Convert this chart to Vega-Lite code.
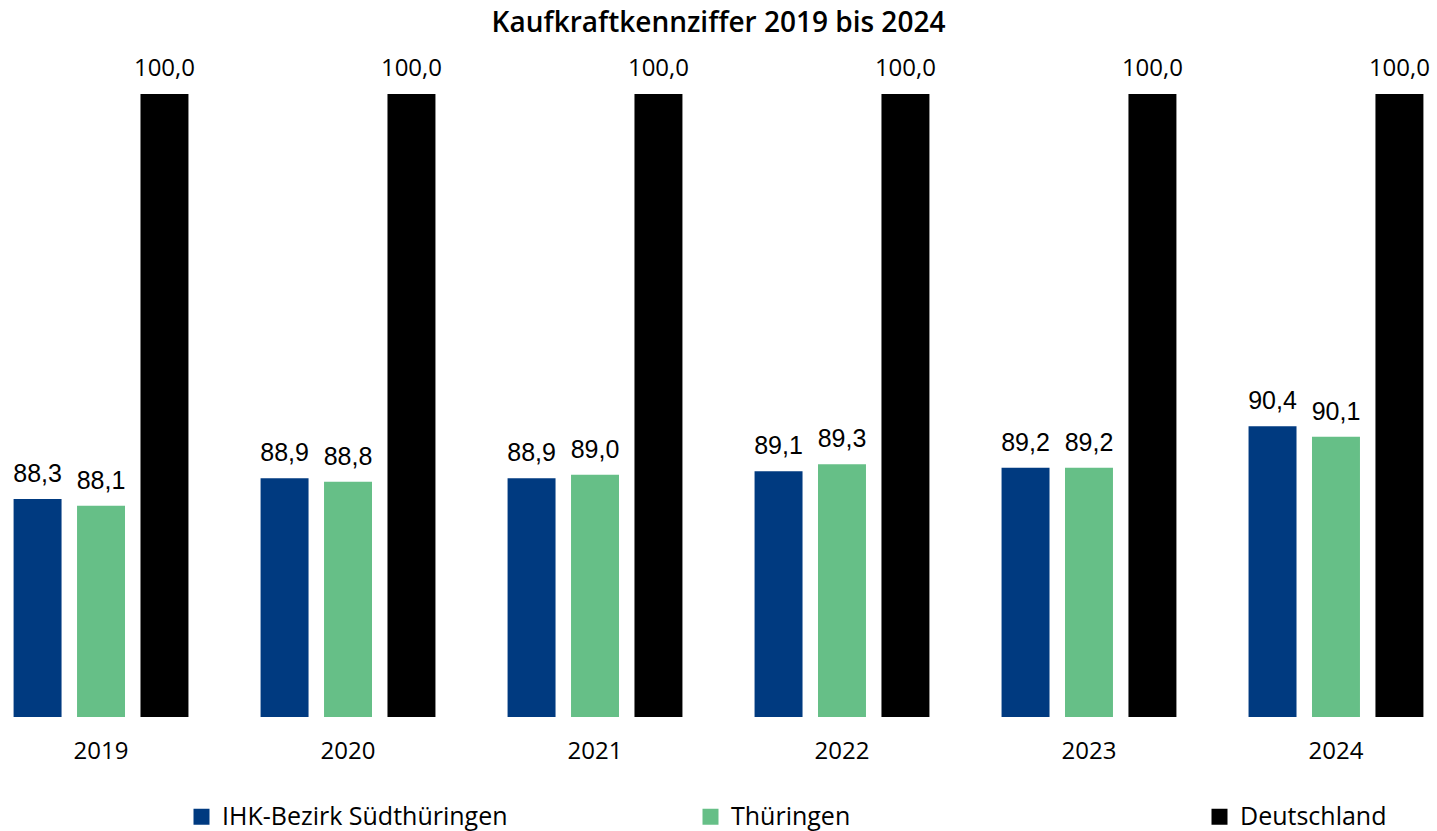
{
  "$schema": "https://vega.github.io/schema/vega-lite/v6.json",
  "autosize": {"type": "none"},
  "padding": {"left": 0, "top": 94, "right": 0, "bottom": 114},
  "width": 1437,
  "height": 623,
  "background": "white",
  "title": {"text": "Kaufkraftkennziffer 2019 bis 2024", "anchor": "middle", "fontSize": 28, "fontWeight": 600, "font": "Open Sans", "color": "#000000", "offset": 19},
  "config": {
    "locale": {"number": {"decimal": ",", "thousands": ".", "grouping": [3], "currency": ["", " €"]}},
    "view": {"stroke": null},
    "font": "Open Sans"
  },
  "data": {"values": [
    {"Jahr": "2019", "Region": "IHK-Bezirk Südthüringen", "Wert": 88.3},
    {"Jahr": "2019", "Region": "Thüringen", "Wert": 88.1},
    {"Jahr": "2019", "Region": "Deutschland", "Wert": 100.0},
    {"Jahr": "2020", "Region": "IHK-Bezirk Südthüringen", "Wert": 88.9},
    {"Jahr": "2020", "Region": "Thüringen", "Wert": 88.8},
    {"Jahr": "2020", "Region": "Deutschland", "Wert": 100.0},
    {"Jahr": "2021", "Region": "IHK-Bezirk Südthüringen", "Wert": 88.9},
    {"Jahr": "2021", "Region": "Thüringen", "Wert": 89.0},
    {"Jahr": "2021", "Region": "Deutschland", "Wert": 100.0},
    {"Jahr": "2022", "Region": "IHK-Bezirk Südthüringen", "Wert": 89.1},
    {"Jahr": "2022", "Region": "Thüringen", "Wert": 89.3},
    {"Jahr": "2022", "Region": "Deutschland", "Wert": 100.0},
    {"Jahr": "2023", "Region": "IHK-Bezirk Südthüringen", "Wert": 89.2},
    {"Jahr": "2023", "Region": "Thüringen", "Wert": 89.2},
    {"Jahr": "2023", "Region": "Deutschland", "Wert": 100.0},
    {"Jahr": "2024", "Region": "IHK-Bezirk Südthüringen", "Wert": 90.4},
    {"Jahr": "2024", "Region": "Thüringen", "Wert": 90.1},
    {"Jahr": "2024", "Region": "Deutschland", "Wert": 100.0}
  ]},
  "encoding": {
    "x": {"field": "Jahr", "type": "nominal", "title": null,
      "scale": {"paddingInner": 0.292, "paddingOuter": 0.055},
      "axis": {"labelAngle": 0, "domain": false, "ticks": false, "labelFontSize": 24, "labelColor": "#000000", "labelPadding": 22, "labelFont": "Open Sans"}},
    "xOffset": {"field": "Region", "type": "nominal", "sort": ["IHK-Bezirk Südthüringen", "Thüringen", "Deutschland"], "scale": {"paddingInner": 0.244, "paddingOuter": 0}},
    "y": {"field": "Wert", "type": "quantitative", "scale": {"domain": [82, 100], "zero": false, "nice": false}, "axis": null}
  },
  "layer": [
    {
      "mark": {"type": "bar"},
      "encoding": {
        "y2": {"datum": 82},
        "color": {"field": "Region", "type": "nominal", "title": null,
          "scale": {"domain": ["IHK-Bezirk Südthüringen", "Thüringen", "Deutschland"], "range": ["#003A80", "#66BF87", "#000000"]},
          "legend": {"orient": "none", "direction": "horizontal", "columns": 3, "gridAlign": "all", "columnPadding": 190, "legendX": 189, "legendY": 710, "symbolType": "square", "symbolSize": 256, "symbolStrokeWidth": 0, "labelFontSize": 25, "labelColor": "#000000", "labelFont": "Open Sans", "labelOffset": 8, "labelLimit": 400}}
      }
    },
    {
      "transform": [{"filter": "datum.Region !== 'Deutschland'"}],
      "mark": {"type": "text", "baseline": "alphabetic", "dy": -17, "fontSize": 25, "font": "Liberation Sans", "color": "#000000"},
      "encoding": {
        "text": {"field": "Wert", "type": "quantitative", "format": ".1f"}
      }
    },
    {
      "transform": [{"filter": "datum.Region === 'Deutschland'"}],
      "mark": {"type": "text", "baseline": "alphabetic", "dy": -18, "fontSize": 24, "font": "Open Sans", "color": "#000000"},
      "encoding": {
        "text": {"field": "Wert", "type": "quantitative", "format": ".1f"}
      }
    }
  ]
}
